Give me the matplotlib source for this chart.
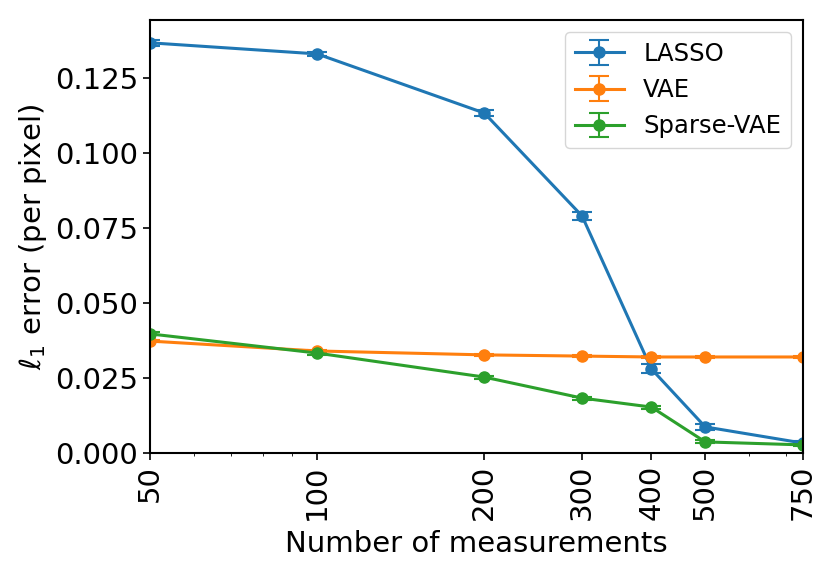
import matplotlib
matplotlib.use('Agg')
import matplotlib.pyplot as plt
from matplotlib.ticker import NullFormatter

measurements = [50, 100, 200, 300, 400, 500, 750]

lasso = [0.1367, 0.1330, 0.1133, 0.0790, 0.0280, 0.0087, 0.0033]
lasso_err = [0.0010, 0.0008, 0.0009, 0.0012, 0.0015, 0.0010, 0.0006]

vae = [0.0373, 0.0340, 0.0327, 0.0323, 0.0320, 0.0320, 0.0320]
vae_err = [0.0004, 0.0004, 0.0004, 0.0004, 0.0004, 0.0004, 0.0004]

sparse_vae = [0.0397, 0.0333, 0.0253, 0.0183, 0.0153, 0.0037, 0.0027]
sparse_vae_err = [0.0005, 0.0005, 0.0005, 0.0005, 0.0005, 0.0005, 0.0005]


def plot_errors(out_file):
    fig = plt.figure(figsize=(8.31, 5.73), dpi=100)
    ax = fig.add_axes([150 / 831, 1 - 453 / 573, 653 / 831, 433 / 573])
    for vals, errs, name in [(lasso, lasso_err, 'LASSO'),
                             (vae, vae_err, 'VAE'),
                             (sparse_vae, sparse_vae_err, 'Sparse-VAE')]:
        ax.errorbar(measurements, vals, yerr=errs, label=name, marker='o',
                    ms=8, lw=2.2, capsize=7, capthick=1.5, elinewidth=1.5)
    ax.set_xscale('log')
    ax.set_xlim(50, 750)
    ax.set_ylim(0, 0.1443)
    ax.set_xticks(measurements)
    ax.set_xticklabels([str(m) for m in measurements], rotation=90)
    ax.xaxis.set_minor_formatter(NullFormatter())
    ax.set_yticks([0, 0.025, 0.05, 0.075, 0.1, 0.125])
    ax.tick_params(labelsize=21, width=1.2, length=5)
    for s in ax.spines.values():
        s.set_linewidth(1.5)
    ax.set_xlabel('Number of measurements', fontsize=21, labelpad=7)
    ax.set_ylabel(r'$\ell_1$ error (per pixel)', fontsize=21)
    ax.legend(loc='upper right', fontsize=17.5)
    fig.savefig(out_file, dpi=100)


if __name__ == '__main__':
    plot_errors('out.png')
